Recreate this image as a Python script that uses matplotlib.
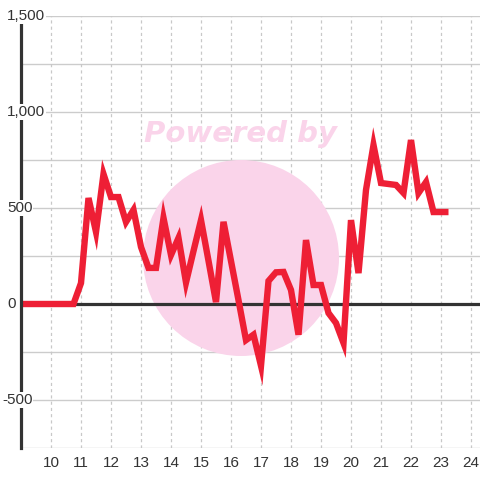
import matplotlib
matplotlib.use("Agg")
import matplotlib.pyplot as plt
import matplotlib.transforms as mtransforms
from matplotlib.patches import Circle
import numpy as np

plt.rcParams['font.family'] = ['Liberation Sans', 'DejaVu Sans']

start_hour = 9.0
step = 0.25
values = [0, 0, 0, 0, 0, 0, 0, 0,
          109, 552, 375, 677, 557, 557, 427, 490,
          297, 188, 188, 448, 255, 344, 112, 276,
          437, 225, 10, 428, 224, 20, -188, -160,
          -322, 120, 165, 167, 73, -160, 333, 99,
          99, -47, -99, -203, 437, 161, 594, 828,
          630, 625, 620, 578, 854, 578, 635, 479,
          479, 479]
x_ticks = list(range(10, 25))
y_ticks = [-500, 0, 500, 1000, 1500]
y_tick_labels = ['-500', '0', '500', '1,000', '1,500']

times = start_hour + step * np.arange(len(values))

W, H = 480, 480
fig = plt.figure(figsize=(4.8, 4.8), dpi=100)
ax = fig.add_axes([21 / W, 1 - 448 / H, 1 - 21 / W, (448 - 16) / H])
ax.set_xlim(9, 24.3)
ax.set_ylim(-750, 1500)

# grid
for yv in np.arange(-750, 1501, 250):
    ax.axhline(yv, color='#cccccc', lw=1.0, zorder=0)
for xv in x_ticks:
    ax.axvline(xv, color='#c8c8c8', lw=0.9, ls=(0, (2.5, 2.5)), zorder=0)

# watermark
circ = Circle((241 / W, 1 - 258 / H), 98 / W, facecolor='#fad4ea',
              edgecolor='none', zorder=0.5)
circ.set_transform(fig.transFigure)
ax.add_artist(circ)
fig.text(241 / W, 1 - 134 / H, 'Powered by', color='#fad4ea', fontsize=21,
         fontweight='bold', fontstyle='italic', ha='center', va='center',
         family=['DejaVu Sans'], zorder=0.6)

ax.axhline(0, color='#333333', lw=2.3, zorder=2)

ax.plot(times, values, color='#ee1f35', lw=4.6, zorder=3,
        solid_joinstyle='miter', solid_capstyle='butt')

for s in ['top', 'right', 'bottom']:
    ax.spines[s].set_visible(False)
ax.spines['left'].set_color('#333333')
ax.spines['left'].set_linewidth(2.3)
ax.spines['left'].set_zorder(4)

ax.set_xticks(x_ticks)
ax.set_xticklabels([str(t) for t in x_ticks], fontsize=11, color='#333333')
ax.tick_params(axis='x', length=0, pad=6)
ax.set_yticks([])
trans = mtransforms.blended_transform_factory(fig.transFigure, ax.transData)
for yv, lab in zip(y_ticks, y_tick_labels):
    ax.text((2 if lab.startswith('-') else 7) / W, yv, lab, transform=trans,
            ha='left', va='center', fontsize=11, color='#333333', zorder=5,
            bbox=dict(facecolor='white', edgecolor='none', pad=0.5))

fig.savefig('out.png', dpi=100, facecolor='white')
